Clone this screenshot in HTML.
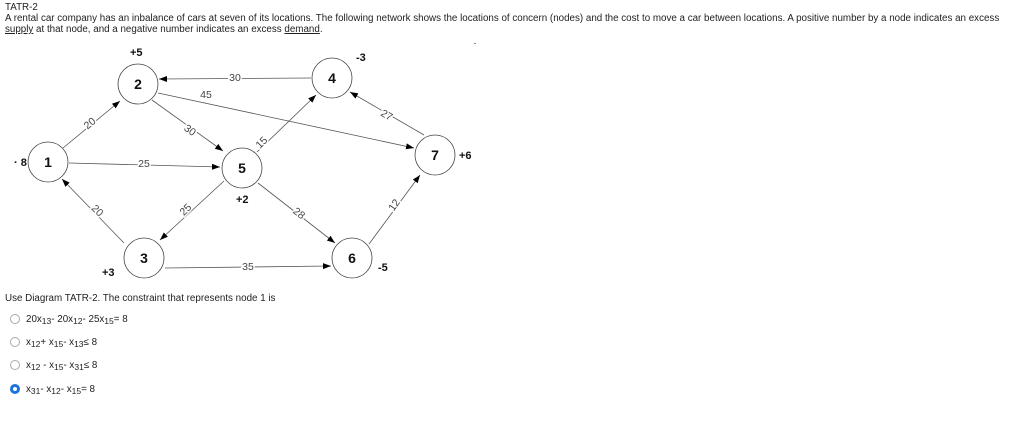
<!DOCTYPE html>
<html><head><meta charset="utf-8"><style>
body{margin:0;width:1024px;height:427px;background:#fff;font-family:"Liberation Sans",sans-serif;position:relative;overflow:hidden}
.t{position:absolute;font-size:9.8px;color:#222;line-height:11px;white-space:nowrap}
u{text-decoration:underline}
.opt{position:absolute;left:10px;font-size:9.8px;color:#222}
.r{display:inline-block;width:10px;height:10px;border:1px solid #aaa;border-radius:50%;vertical-align:middle;margin-right:6px;box-sizing:border-box}
.sel{border:3px solid #1a73d9;background:#fff}
sub{font-size:8.5px;vertical-align:-2px}
</style></head><body>
<div class="t" style="left:5px;top:2px">TATR-2<br>A rental car company has an inbalance of cars at seven of its locations. The following network shows the locations of concern (nodes) and the cost to move a car between locations. A positive number by a node indicates an excess<br><u>supply</u> at that node, and a negative number indicates an excess <u>demand</u>.</div>
<div style="position:absolute;left:474px;top:43px;width:2px;height:1px;background:#888"></div>
<svg width="500" height="290" style="position:absolute;left:0;top:0" font-family="Liberation Sans,sans-serif">
<defs><marker id="a" markerWidth="8" markerHeight="8" refX="8" refY="4" orient="auto" markerUnits="userSpaceOnUse"><path d="M0,1 L8,4 L0,7z" fill="#000"/></marker></defs>
<g stroke="#555" stroke-width="0.8" fill="none" marker-end="url(#a)">
<line x1="63" y1="148" x2="120" y2="101"/>
<line x1="311" y1="78" x2="159" y2="79"/>
<line x1="158" y1="93" x2="414" y2="148"/>
<line x1="152" y1="100" x2="223" y2="151"/>
<line x1="69" y1="163" x2="220" y2="167"/>
<line x1="124" y1="243" x2="62" y2="179"/>
<line x1="257" y1="152" x2="316" y2="95"/>
<line x1="224" y1="181" x2="160" y2="240"/>
<line x1="258" y1="183" x2="335" y2="243"/>
<line x1="165" y1="268" x2="331" y2="266"/>
<line x1="424" y1="135" x2="350" y2="92"/>
<line x1="369" y1="244" x2="420" y2="175"/>
</g>
<g fill="#444" font-size="10.5" text-anchor="middle" stroke="#fff" stroke-width="3" paint-order="stroke">
<text x="92" y="126" transform="rotate(-40 92 126)">20</text>
<text x="235" y="81">30</text>
<text x="206" y="98">45</text>
<text x="188" y="133" transform="rotate(35 188 133)">30</text>
<text x="144" y="167">25</text>
<text x="95" y="213" transform="rotate(45 95 213)">20</text>
<text x="264" y="145" transform="rotate(-45 264 145)">15</text>
<text x="188" y="212" transform="rotate(-45 188 212)">25</text>
<text x="297" y="216" transform="rotate(38 297 216)">28</text>
<text x="248" y="270">35</text>
<text x="385" y="118" transform="rotate(30 385 118)">27</text>
<text x="397" y="207" transform="rotate(-55 397 207)">12</text>
</g>
<g stroke="#444" stroke-width="0.8" fill="#fff">
<circle cx="48" cy="162" r="20"/><circle cx="138" cy="84" r="20"/><circle cx="332" cy="78" r="20"/>
<circle cx="242" cy="168" r="20"/><circle cx="435" cy="155" r="20"/><circle cx="144" cy="258" r="20"/><circle cx="352" cy="258" r="20"/>
</g>
<g font-weight="bold" font-size="14" text-anchor="middle" fill="#111">
<text x="48" y="167">1</text><text x="138" y="89">2</text><text x="332" y="83">4</text><text x="242" y="173">5</text><text x="435" y="160">7</text><text x="144" y="263">3</text><text x="352" y="263">6</text>
</g>
<g font-weight="bold" font-size="11" fill="#111">
<text x="130" y="56">+5</text><text x="356" y="61">-3</text><text x="236" y="203">+2</text><text x="459" y="159">+6</text><text x="378" y="271">-5</text><text x="102" y="276">+3</text><text x="14" y="166">· 8</text>
</g>
</svg>
<div class="t" style="left:5px;top:293px">Use Diagram TATR-2. The constraint that represents node 1 is</div>
<div class="opt" style="top:314px"><span class="r"></span>20x<sub>13</sub>- 20x<sub>12</sub>- 25x<sub>15</sub>= 8</div>
<div class="opt" style="top:337px"><span class="r"></span>x<sub>12</sub>+ x<sub>15</sub>- x<sub>13</sub>≤ 8</div>
<div class="opt" style="top:360px"><span class="r"></span>x<sub>12</sub> - x<sub>15</sub>- x<sub>31</sub>≤ 8</div>
<div class="opt" style="top:384px"><span class="r sel"></span>x<sub>31</sub>- x<sub>12</sub>- x<sub>15</sub>= 8</div>
</body></html>
